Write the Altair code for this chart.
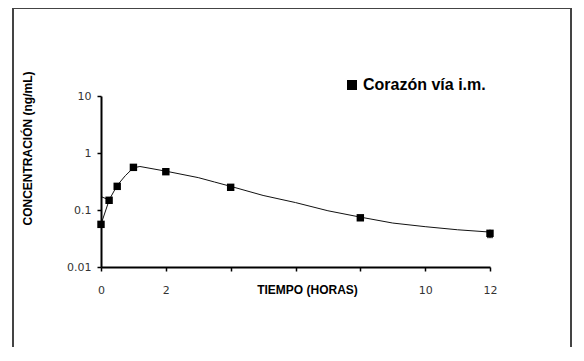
import altair as alt
import pandas as pd

# observed concentrations (ng/mL) vs time (h)
obs_time = [0, 0.25, 0.5, 1, 2, 4, 8, 12]
obs_conc = [0.056, 0.148, 0.26, 0.56, 0.47, 0.25, 0.073, 0.039]

# fitted curve
fit_time = [0, 0.25, 0.5, 0.75, 1.0, 1.2, 2, 3, 3.5, 4, 5, 6, 7, 8, 9, 10, 11, 12]
fit_conc = [0.172, 0.15, 0.27, 0.40, 0.55, 0.58, 0.48, 0.37, 0.31, 0.26, 0.18, 0.135, 0.097, 0.075, 0.059, 0.051, 0.045, 0.041]

# error bar at last point
err_time = [12]
err_low = [0.033]
err_high = [0.045]

series_name = "Corazón vía i.m."
FONT = "Liberation Sans"
LFONT = "DejaVu Sans"

obs_df = pd.DataFrame({"t": obs_time, "c": obs_conc, "s": series_name})
fit_df = pd.DataFrame({"t": fit_time, "c": fit_conc})
seg_df = pd.DataFrame({"t": obs_time[:2], "c": obs_conc[:2]})
err_df = pd.DataFrame({"t": err_time, "lo": err_low, "hi": err_high})

xscale = alt.Scale(domain=[0, 12], nice=False)
yscale = alt.Scale(type="log", domain=[0.01, 10], nice=False)

x_axis = alt.Axis(
    values=[0, 2, 4, 6, 8, 10, 12],
    labelExpr="indexof([4,6,8], datum.value) >= 0 ? '' : datum.label",
    title="TIEMPO (HORAS)",
    titleFont=FONT, titleFontSize=12, titleFontWeight="bold", titleColor="#000",
    titleX=206, titleY=22, titleBaseline="middle", titleAlign="center",
    labelFont=LFONT, labelFontSize=11, labelColor="#333", labelPadding=13,
    labelFlush=False, labelOverlap=False,
    domainColor="#000", domainWidth=2, tickColor="#000", tickWidth=1.5, tickSize=4,
    grid=False, zindex=1,
)
y_axis = alt.Axis(
    values=[0.01, 0.1, 1, 10], format="~g",
    title="CONCENTRACIÓN (ng/mL)",
    titleFont=FONT, titleFontSize=12, titleFontWeight="bold", titleColor="#000",
    titleX=-74, titleY=52, titleBaseline="middle", titleAlign="center", titleAngle=270,
    labelFont=LFONT, labelFontSize=11, labelColor="#333", labelPadding=6,
    labelFlush=False, labelOverlap=False,
    domainColor="#000", domainWidth=2, tickColor="#000", tickWidth=1.5, tickSize=4,
    grid=False, zindex=1,
)

fit = alt.Chart(fit_df).mark_line(color="#111", strokeWidth=1).encode(
    x=alt.X("t:Q", scale=xscale, axis=x_axis),
    y=alt.Y("c:Q", scale=yscale, axis=y_axis),
)
seg = alt.Chart(seg_df).mark_line(color="#111", strokeWidth=1).encode(
    x=alt.X("t:Q", scale=xscale), y=alt.Y("c:Q", scale=yscale)
)
err = alt.Chart(err_df).mark_rule(color="#000", strokeWidth=1.5).encode(
    x=alt.X("t:Q", scale=xscale), y=alt.Y("lo:Q", scale=yscale), y2="hi:Q"
)
errcap = alt.Chart(err_df).mark_tick(color="#000", thickness=1.5, size=6, orient="horizontal").encode(
    x=alt.X("t:Q", scale=xscale), y=alt.Y("lo:Q", scale=yscale)
)
pts = alt.Chart(obs_df).mark_point(filled=True, opacity=1, shape="square").encode(
    x=alt.X("t:Q", scale=xscale),
    y=alt.Y("c:Q", scale=yscale),
    shape=alt.Shape("s:N", scale=alt.Scale(range=["square"]),
                    legend=alt.Legend(title=None, orient="none", legendX=243, legendY=-19,
                                      labelFont=FONT, labelFontSize=16, labelFontWeight="bold",
                                      labelColor="#000", symbolSize=100, symbolFillColor="#000",
                                      symbolStrokeColor="#000", symbolType="square",
                                      labelOffset=3, padding=0)),
    color=alt.value("#000"),
    size=alt.value(55),
)

# decorative outer frame (left, top, right edges)
one = pd.DataFrame({"k": [0]})
frame_style = dict(color="#444", strokeWidth=2)
frame_left = alt.Chart(one).mark_rule(**frame_style).encode(
    x=alt.value(-88), y=alt.value(-88), y2=alt.value(275))
frame_top = alt.Chart(one).mark_rule(**frame_style).encode(
    x=alt.value(-88), x2=alt.value(470), y=alt.value(-88))
frame_right = alt.Chart(one).mark_rule(**frame_style).encode(
    x=alt.value(470), x2=alt.value(470), y=alt.value(-88), y2=alt.value(275))

chart = alt.layer(fit, seg, err, errcap, pts, frame_left, frame_top, frame_right).properties(
    width=389, height=171,
    autosize=alt.AutoSizeParams(type="none"),
    padding={"left": 93, "top": 88, "right": 85, "bottom": 80},
    background="white",
).configure_view(stroke=None)

chart.save("out.html", embed_options={"renderer": "svg", "actions": False})
